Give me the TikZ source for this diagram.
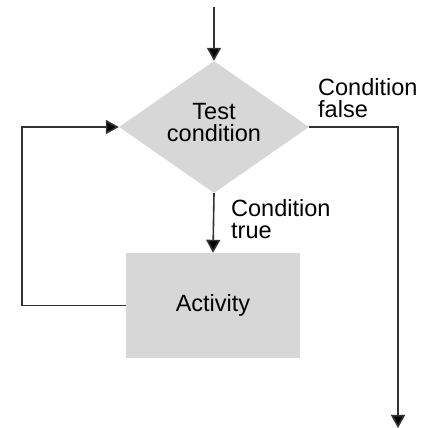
\documentclass[tikz,border=0pt]{standalone}
\usepackage{fontspec}
\setmainfont{Liberation Sans}
\usetikzlibrary{shapes.geometric,arrows.meta,positioning}

\definecolor{boxgray}{RGB}{215,215,215}
\definecolor{linegray}{RGB}{50,50,50}

\begin{document}
\begin{tikzpicture}[x=1pt,y=1pt,
        every node/.style={font=\fontsize{23.5}{22}\selectfont},
        flow/.style={draw=linegray,line width=1.6pt},
        tip/.style={-{Triangle[width=14pt,length=13pt,fill=black]}},
        label text/.style={align=left,inner sep=0pt}]
    \useasboundingbox (0,0) rectangle (420,428);
    % decision and activity
    \node[diamond,fill=boxgray,minimum width=190pt,minimum height=132pt,
          aspect=1.44,inner sep=0pt,text depth=10pt,align=center] (test) at (214,301) {Test\\condition};
    \node[fill=boxgray,minimum width=174pt,minimum height=105pt] (act) at (213,122.5) {Activity};
    \coordinate (start) at (214,421);
    \coordinate (exitcorner) at (398,301);
    \coordinate (exit) at (398,0);
    \coordinate (loopbottom) at (22,122.5);
    \coordinate (looptop) at (22,301);
    % labels
    \node[label text,anchor=north west] (falselbl) at (318,350) {Condition\\false};
    \node[label text,anchor=north west] (truelbl) at (231,229) {Condition\\true};
    % connectors
    \draw[flow,tip] (start) -- (test.north);
    \draw[flow,tip] (test.south) -- (act.north);
    \draw[flow,tip] (test.east) -- (exitcorner) -- (exit);
    \draw[flow,tip] (act.west) -- (loopbottom) -- (looptop) -- (test.west);
\end{tikzpicture}
\end{document}
